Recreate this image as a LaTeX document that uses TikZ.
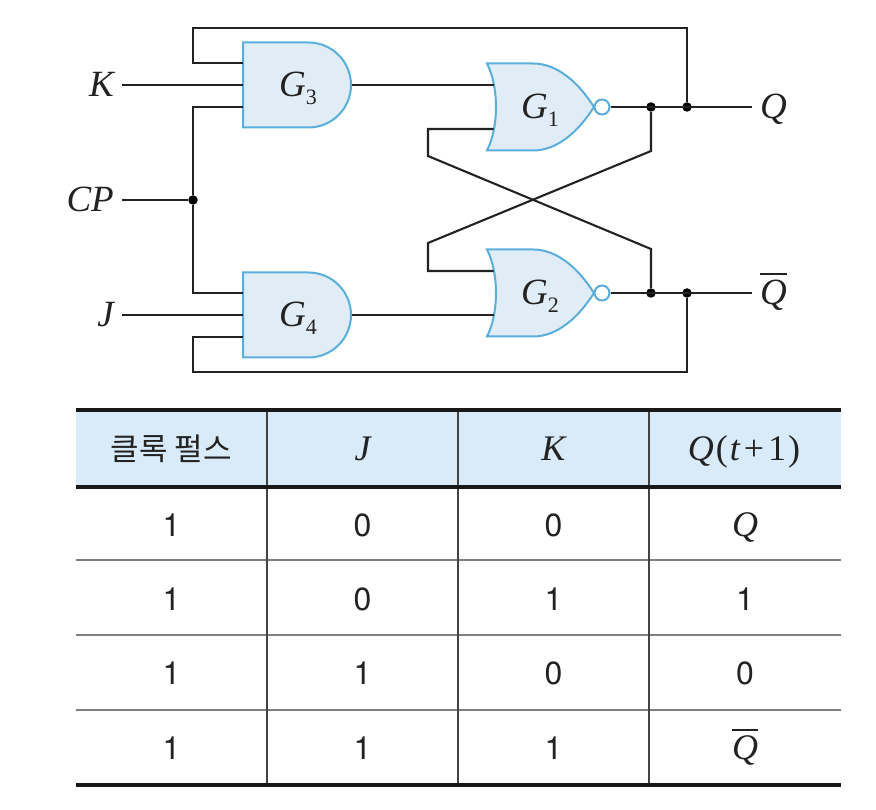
\documentclass[tikz,border=0pt]{standalone}
\usepackage{fontspec}
\setmainfont{Liberation Serif}
\newfontfamily\digitfont{TeX Gyre Heros}
\newfontfamily\krfont{Noto Sans CJK KR}
\definecolor{gatefill}{HTML}{E0EDF7}
\definecolor{gateline}{HTML}{5AAEDC}
\definecolor{headfill}{HTML}{D9EAF8}
\definecolor{inkline}{HTML}{222222}
\newcommand{\gname}[1]{{\itshape G}\raisebox{-.22em}{\fontsize{22}{22}\selectfont #1}}
\newcommand{\qbar}{\vbox{\hrule height 1.6pt \kern 5pt \hbox{\itshape Q}}}
\tikzset{
  x=1pt, y=-1pt,
  wire/.style={draw=inkline, line width=2.1pt, line join=miter},
  gateshape/.style={draw=gateline, fill=gatefill, line width=2pt},
  junction/.style={circle, fill=black, inner sep=0pt, minimum size=9.5pt},
  gatetext/.style={font=\fontsize{37}{39}\selectfont, text=inkline},
  sig/.style={gatetext, text height=23pt, text depth=0pt, inner xsep=8pt, inner ysep=0pt},
  cell/.style={text=inkline, text height=23pt, text depth=0pt, inner sep=0pt},
  num/.style={cell, font=\digitfont\fontsize{32}{34}\selectfont},
  mathcell/.style={cell, font=\fontsize{36}{38}\selectfont},
  andgate/.pic={
    \path[gateshape] (0,-42.5) -- (65.5,-42.5) arc[start angle=-90, end angle=90, radius=42.5]
      -- (0,42.5) -- cycle;
    \node[gatetext, text height=23pt, text depth=0pt, inner sep=0pt] (-name) at (55,0) {\gname{#1}};
    \coordinate (-a) at (0,-22);
    \coordinate (-b) at (0,0);
    \coordinate (-c) at (0,22);
    \coordinate (-out) at (109,0);
  },
  norgate/.pic={
    \path[gateshape] (0,-43.5) -- (46,-43.5) .. controls (72,-43.5) and (93,-22) .. (107,0)
      .. controls (93,22) and (72,43.5) .. (46,43.5) -- (0,43.5)
      .. controls (12,20) and (12,-20) .. (0,-43.5) -- cycle;
    \node[circle, draw=gateline, fill=white, line width=2pt, inner sep=0pt, minimum size=15pt] (-bub) at (115,0) {};
    \node[gatetext, text height=23pt, text depth=0pt, inner sep=0pt] (-name) at (53,0) {\gname{#1}};
    \coordinate (-a) at (6.5,-22);
    \coordinate (-b) at (6.5,22);
  },
}
\begin{document}
\begin{tikzpicture}
  \useasboundingbox (0,0) rectangle (876,810);

  \pic (G3) at (243,85) {andgate=3};
  \pic (G4) at (243,315) {andgate=4};
  \pic (G1) at (487,107) {norgate=1};
  \pic (G2) at (487,293) {norgate=2};

  \node[sig, anchor=east] (K) at (122,85) {\itshape K};
  \node[sig, anchor=east] (CP) at (122,200) {\itshape CP};
  \node[sig, anchor=east] (J) at (122,315) {\itshape J};
  \node[sig, anchor=west] (Q) at (752,107) {\itshape Q};
  \node[sig, anchor=west] (Qn) at (752,293) {\qbar};

  \node[junction] (dotCP) at (193,200) {};
  \node[junction] (dotQa) at (651,107) {};
  \node[junction] (dotQb) at (687,107) {};
  \node[junction] (dotNa) at (651,293) {};
  \node[junction] (dotNb) at (687,293) {};

  \coordinate (railT) at (193,28);
  \coordinate (railB) at (193,372);
  \coordinate (bendA) at (428,156);
  \coordinate (bendB) at (651,249);
  \coordinate (bendC) at (651,151);
  \coordinate (bendD) at (428,243);

  \draw[wire] (K.east) -- (G3-b);
  \draw[wire] (J.east) -- (G4-b);
  \draw[wire] (CP.east) -- (dotCP);
  \draw[wire] (G3-c) -| (dotCP) |- (G4-a);
  \draw[wire] (G3-a) -| (railT) -| (dotQb);
  \draw[wire] (G4-c) -| (railB) -| (dotNb);
  \draw[wire] (G3-out) -- (G1-a);
  \draw[wire] (G4-out) -- (G2-b);
  \draw[wire] (G1-bub.east) -- (Q.west);
  \draw[wire] (G2-bub.east) -- (Qn.west);
  \draw[wire] (G1-b) -| (bendA) -- (bendB) -- (dotNa);
  \draw[wire] (dotQa) -- (bendC) -- (bendD) |- (G2-a);

  \fill[headfill] (76,410) rectangle (841,487);
  \foreach \ypos in {560,635,710}
    \draw[line width=1.7pt, draw=gray] (76,\ypos) -- (841,\ypos);
  \foreach \xpos in {267,458,649}
    \draw[line width=1.1pt, draw=inkline!85] (\xpos,410) -- (\xpos,785);
  \foreach \ypos in {410,487,785}
    \draw[line width=3.4pt, draw=black!90] (76,\ypos) -- (841,\ypos);

  \node[cell, font=\krfont\fontsize{31}{33}\selectfont] (head1) at (171.5,449) {클록 펄스};
  \node[mathcell] (head2) at (362.5,449) {\itshape J};
  \node[mathcell] (head3) at (553.5,449) {\itshape K};
  \node[mathcell] (head4) at (744,449) {{\itshape Q}\kern2pt(\kern2pt{\itshape t}\kern4pt+\kern4pt1\kern2pt)};

  \foreach \ypos/\va/\vb/\vc [count=\r] in {525/1/0/0,599/1/0/1,673/1/1/0,748/1/1/1} {
    \node[num] (a\r) at (171.5,\ypos) {\va};
    \node[num] (b\r) at (362.5,\ypos) {\vb};
    \node[num] (c\r) at (553.5,\ypos) {\vc};
  }
  \node[mathcell] (d1) at (745,525) {\itshape Q};
  \node[num] (d2) at (745,599) {1};
  \node[num] (d3) at (745,673) {0};
  \node[mathcell] (d4) at (745,748) {\qbar};
\end{tikzpicture}
\end{document}
